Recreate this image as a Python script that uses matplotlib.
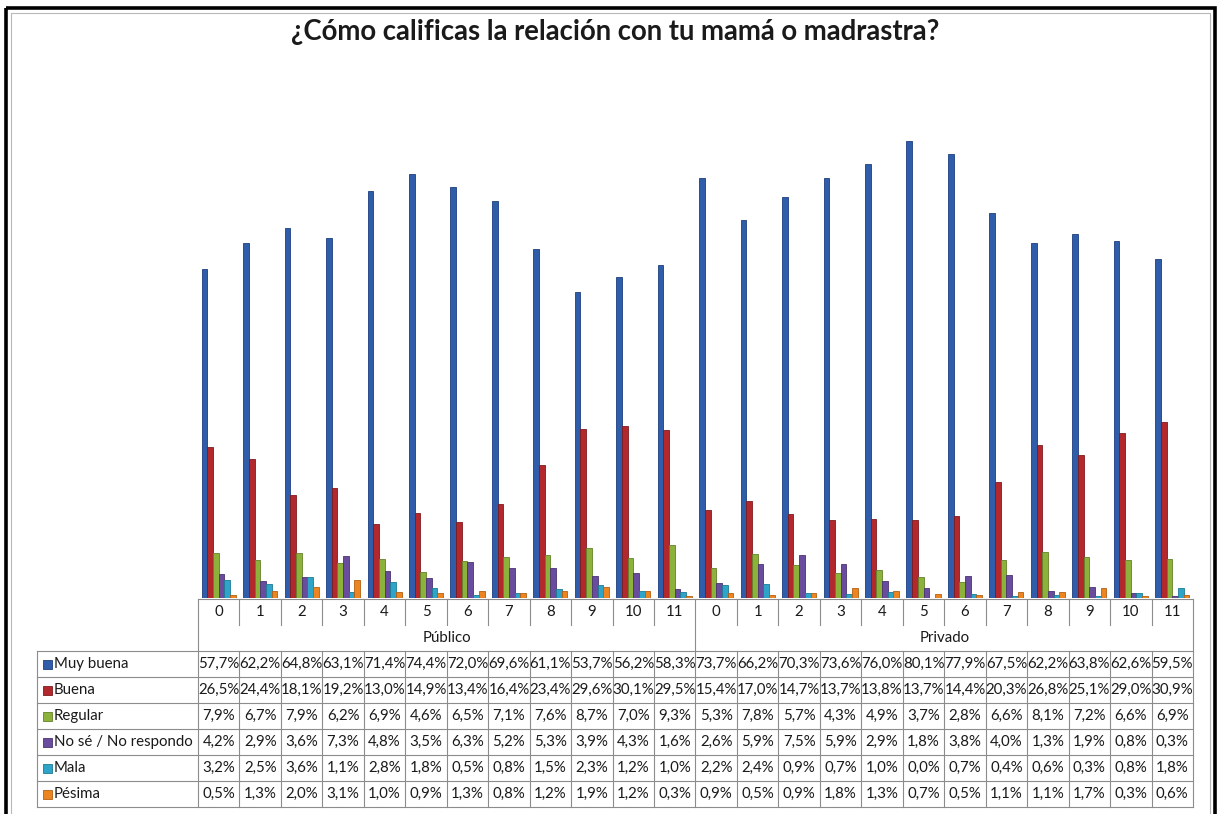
import matplotlib
matplotlib.use("Agg")
import matplotlib.pyplot as plt
import numpy as np
from matplotlib.transforms import blended_transform_factory
from matplotlib.patches import Rectangle

plt.rcParams['font.family'] = ['Lato', 'DejaVu Sans']

title = "¿Cómo calificas la relación con tu mamá o madrastra?"
grades = ["0", "1", "2", "3", "4", "5", "6", "7", "8", "9", "10", "11"]
groups = ["Público", "Privado"]
series_names = ["Muy buena", "Buena", "Regular", "No sé / No respondo", "Mala", "Pésima"]

muy_buena = [57.7, 62.2, 64.8, 63.1, 71.4, 74.4, 72.0, 69.6, 61.1, 53.7, 56.2, 58.3,
             73.7, 66.2, 70.3, 73.6, 76.0, 80.1, 77.9, 67.5, 62.2, 63.8, 62.6, 59.5]
buena = [26.5, 24.4, 18.1, 19.2, 13.0, 14.9, 13.4, 16.4, 23.4, 29.6, 30.1, 29.5,
         15.4, 17.0, 14.7, 13.7, 13.8, 13.7, 14.4, 20.3, 26.8, 25.1, 29.0, 30.9]
regular = [7.9, 6.7, 7.9, 6.2, 6.9, 4.6, 6.5, 7.1, 7.6, 8.7, 7.0, 9.3,
           5.3, 7.8, 5.7, 4.3, 4.9, 3.7, 2.8, 6.6, 8.1, 7.2, 6.6, 6.9]
no_se = [4.2, 2.9, 3.6, 7.3, 4.8, 3.5, 6.3, 5.2, 5.3, 3.9, 4.3, 1.6,
         2.6, 5.9, 7.5, 5.9, 2.9, 1.8, 3.8, 4.0, 1.3, 1.9, 0.8, 0.3]
mala = [3.2, 2.5, 3.6, 1.1, 2.8, 1.8, 0.5, 0.8, 1.5, 2.3, 1.2, 1.0,
        2.2, 2.4, 0.9, 0.7, 1.0, 0.0, 0.7, 0.4, 0.6, 0.3, 0.8, 1.8]
pesima = [0.5, 1.3, 2.0, 3.1, 1.0, 0.9, 1.3, 0.8, 1.2, 1.9, 1.2, 0.3,
          0.9, 0.5, 0.9, 1.8, 1.3, 0.7, 0.5, 1.1, 1.1, 1.7, 0.3, 0.6]

series = [muy_buena, buena, regular, no_se, mala, pesima]
colors = ["#2F5DAA", "#B3282C", "#8DB23C", "#6A4C9E", "#2EA5C8", "#EC8420"]
edges = ["#1C3F7E", "#7E1A1E", "#62822A", "#4A3372", "#1D7994", "#B35F12"]

W, H = 1221, 814
fig = plt.figure(figsize=(W / 100, H / 100), dpi=100)
fig.patch.set_facecolor("white")

# overlay in pixel coordinates
ov = fig.add_axes([0, 0, 1, 1], zorder=0)
ov.set_xlim(0, W)
ov.set_ylim(H, 0)
ov.axis("off")

x_left, x_right = 198, 1193
base_y, top_y = 598, 96
ymax = 88
ax = fig.add_axes([x_left / W, (H - base_y) / H, (x_right - x_left) / W, (base_y - top_y) / H], zorder=1)
ax.patch.set_alpha(0)
n = len(grades) * len(groups)
ax.set_xlim(-0.5, n - 0.5)
ax.set_ylim(0, ymax)
ax.axis("off")

bw = 0.137
xs = np.arange(n)
for i, (vals, c, ec) in enumerate(zip(series, colors, edges)):
    ax.bar(xs + (i - 2.5) * bw, vals, width=bw, color=c, edgecolor=ec, linewidth=0.6)

# frame
ov.add_patch(Rectangle((6, 8), 1208.5, 830, fill=False, edgecolor="black", linewidth=2.6))
ov.add_patch(Rectangle((11, 13), 1199, 830, fill=False, edgecolor="#b8b8b8", linewidth=0.8))

ov.text(615, 32, title, ha="center", va="center", fontsize=19.8, fontweight="bold", color="#1a1a1a")

# table
tr = blended_transform_factory(ax.transData, ov.transData)
lc = "#8c8c8c"
lw = 0.8
label_left = 37
row_h = 26
cat_top, grp_top, tab_top = 599, 625, 651
rows_y = [tab_top + k * row_h for k in range(len(series) + 1)]

ov.plot([x_left, x_right], [cat_top, cat_top], color=lc, lw=lw)
ov.plot([label_left, x_right], [tab_top, tab_top], color=lc, lw=lw)
for yy in rows_y[1:]:
    ov.plot([label_left, x_right], [yy, yy], color=lc, lw=lw)

for j in range(n + 1):
    xj = j - 0.5
    if j in (0, len(grades), n):
        ax.plot([xj, xj], [cat_top, rows_y[-1]], color=lc, lw=lw, transform=tr, clip_on=False)
    else:
        ax.plot([xj, xj], [cat_top, grp_top], color=lc, lw=lw, transform=tr, clip_on=False)
        ax.plot([xj, xj], [tab_top, rows_y[-1]], color=lc, lw=lw, transform=tr, clip_on=False)
ov.plot([label_left, label_left], [tab_top, rows_y[-1]], color=lc, lw=lw)

tcol = "#1a1a1a"
fs = 10.8
for j in range(n):
    ax.text(j, cat_top + 13, grades[j % len(grades)], transform=tr, ha="center", va="center",
            fontsize=fs, color=tcol)
for g, name in enumerate(groups):
    cx = g * len(grades) + (len(grades) - 1) / 2
    ax.text(cx, grp_top + 13, name, transform=tr, ha="center", va="center", fontsize=fs, color=tcol)

for k, (name, vals, c, ec) in enumerate(zip(series_names, series, colors, edges)):
    cy = rows_y[k] + row_h / 2
    ov.add_patch(Rectangle((43, cy - 4.5), 9, 9, facecolor=c, edgecolor=ec, linewidth=0.6))
    ov.text(54, cy, name, ha="left", va="center", fontsize=10.8, color=tcol)
    for j, v in enumerate(vals):
        ax.text(j, cy, f"{v:.1f}%".replace(".", ","), transform=tr, ha="center", va="center",
                fontsize=fs, color=tcol)

fig.savefig("out.png", dpi=100)
